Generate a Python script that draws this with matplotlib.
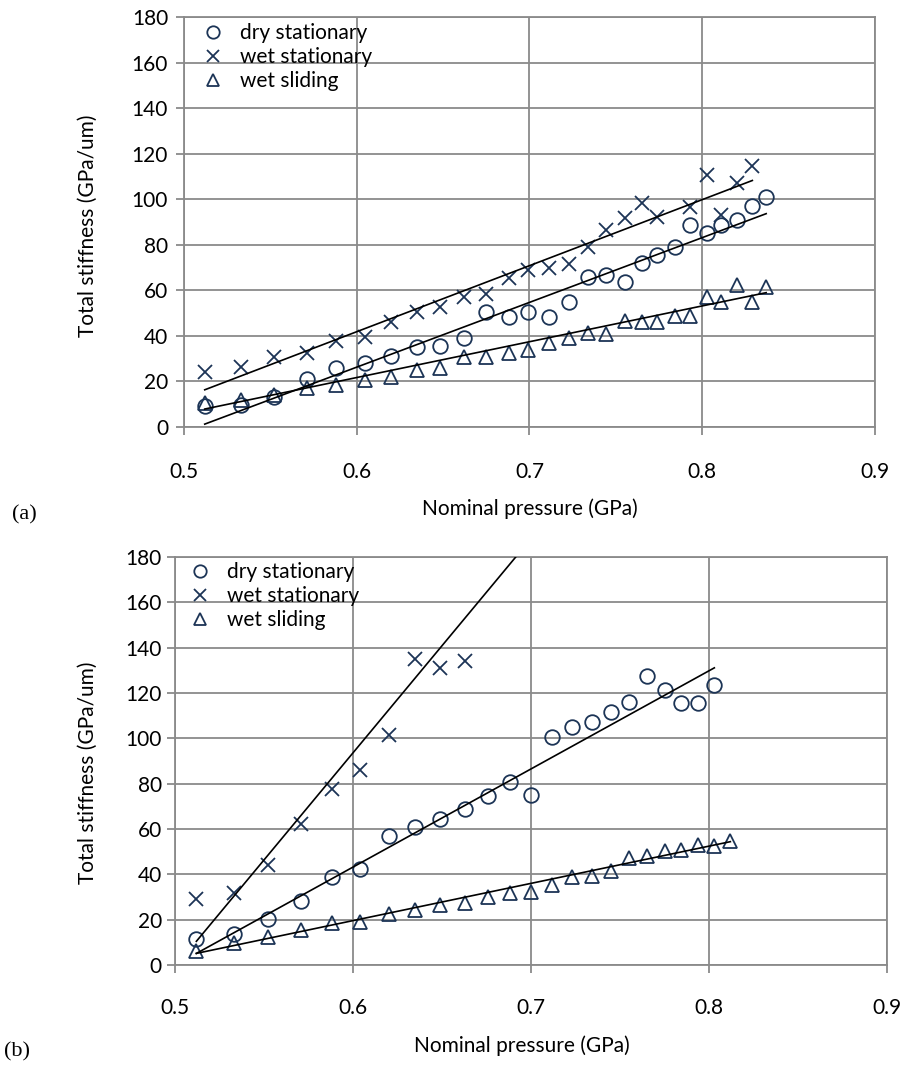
import numpy as np
import matplotlib
matplotlib.use("Agg")
import matplotlib.pyplot as plt

plt.rcParams['font.family'] = ['Lato', 'DejaVu Sans']

labels = ['dry stationary', 'wet stationary', 'wet sliding']

# (a) values
a_dry_x = [0.512, 0.533, 0.552, 0.571, 0.588, 0.605, 0.620, 0.635, 0.648, 0.662, 0.675, 0.688, 0.699, 0.711,
           0.723, 0.734, 0.744, 0.755, 0.765, 0.774, 0.784, 0.793, 0.803, 0.811, 0.820, 0.829, 0.837]
a_dry_y = [9.2, 9.7, 13.3, 20.9, 25.8, 28.0, 31.3, 35.0, 35.7, 39.2, 50.4, 48.4, 50.4, 48.4,
           54.7, 66.0, 66.7, 63.5, 71.9, 75.5, 79.2, 88.7, 85.0, 88.7, 90.9, 97.0, 101.1]
a_wst_x = [0.512, 0.533, 0.552, 0.571, 0.588, 0.605, 0.620, 0.635, 0.648, 0.662, 0.675, 0.688, 0.699,
           0.711, 0.723, 0.734, 0.744, 0.755, 0.765, 0.774, 0.793, 0.803, 0.811, 0.820, 0.829]
a_wst_y = [24.3, 26.2, 30.6, 32.4, 37.9, 39.4, 46.2, 50.4, 52.8, 57.2, 58.4, 65.3, 68.9,
           69.7, 71.6, 79.2, 86.5, 91.6, 98.2, 92.3, 96.4, 110.6, 93.1, 107.0, 114.6]
a_wsl_x = [0.512, 0.533, 0.552, 0.571, 0.588, 0.605, 0.620, 0.635, 0.648, 0.662, 0.675, 0.688, 0.699, 0.711,
           0.723, 0.734, 0.744, 0.755, 0.765, 0.774, 0.784, 0.793, 0.803, 0.811, 0.820, 0.829, 0.837]
a_wsl_y = [10.4, 11.9, 14.0, 17.0, 18.4, 20.6, 21.8, 25.0, 25.8, 30.6, 30.6, 32.4, 33.8, 36.7,
           38.9, 41.4, 40.8, 46.7, 46.2, 46.2, 48.9, 48.9, 57.2, 54.7, 62.3, 55.0, 61.6]
# trend lines (slope, intercept, x start, x end) as seen on the chart
a_trend_slope = [284.3, 289.9, 157.2]
a_trend_icept = [-144.3, -132.1, -72.6]
a_trend_span = [(0.512, 0.837), (0.512, 0.829), (0.512, 0.837)]

# (b)
b_dry_x = [0.512, 0.533, 0.552, 0.571, 0.588, 0.604, 0.620, 0.635, 0.649, 0.663, 0.676, 0.688, 0.700,
           0.712, 0.723, 0.734, 0.745, 0.755, 0.765, 0.775, 0.784, 0.794, 0.803]
b_dry_y = [11.3, 13.7, 20.2, 28.4, 38.7, 42.4, 57.1, 60.8, 64.5, 68.9, 74.5, 80.6, 75.0,
           100.8, 105.2, 107.4, 111.4, 116.2, 127.5, 121.4, 115.8, 115.8, 123.7]
b_wst_x = [0.512, 0.533, 0.552, 0.571, 0.588, 0.604, 0.620, 0.635, 0.649, 0.663]
b_wst_y = [29.0, 31.9, 44.1, 62.2, 77.5, 86.0, 101.4, 134.9, 130.9, 134.3]
b_wsl_x = [0.512, 0.533, 0.552, 0.571, 0.588, 0.604, 0.620, 0.635, 0.649, 0.663, 0.676, 0.688, 0.700,
           0.712, 0.723, 0.734, 0.745, 0.755, 0.765, 0.775, 0.784, 0.794, 0.803, 0.812]
b_wsl_y = [6.3, 9.6, 12.5, 15.4, 18.4, 19.1, 22.5, 24.3, 26.5, 27.2, 29.9, 31.6, 32.4,
           35.3, 39.0, 39.3, 41.5, 47.1, 48.1, 50.4, 50.8, 53.0, 52.7, 54.9]
b_trend_slope = [433.0, 945.0, 164.3]
b_trend_icept = [-216.6, -473.4, -79.0]
b_trend_span = [(0.512, 0.803), (0.512, 0.70), (0.512, 0.812)]

xticks = [0.5, 0.6, 0.7, 0.8, 0.9]
yticks = [0, 20, 40, 60, 80, 100, 120, 140, 160, 180]

navy = '#1c3456'
grid_c = '#8a8a8a'
markers = ['o', 'x', '^']


def draw_panel(ax, series, slopes, icepts, spans):
    for (x, y), m, lab in zip(series, markers, labels):
        if m == 'x':
            ax.plot(x, y, ls='none', marker=m, ms=10, mec=navy, mew=1.3, label=lab, zorder=3)
        else:
            ax.plot(x, y, ls='none', marker=m, ms=10.5, mfc='none', mec=navy, mew=1.3, label=lab, zorder=3)
    for s, c, (x0, x1) in zip(slopes, icepts, spans):
        xx = np.array([x0, x1])
        ax.plot(xx, s * xx + c, color='black', lw=1.2, zorder=4)

    ax.set_xlim(0.5, 0.9)
    ax.set_ylim(0, 180)
    ax.set_xticks(xticks)
    ax.set_xticklabels(['%.1f' % v for v in xticks])
    ax.set_yticks(yticks)
    ax.grid(True, color=grid_c, lw=1.3)
    ax.set_axisbelow(True)
    for sp in ax.spines.values():
        sp.set_color(grid_c)
        sp.set_linewidth(1.3)
    ax.tick_params(axis='both', direction='out', length=5.5, width=1.3, color=grid_c,
                   labelsize=15, labelcolor='black')
    ax.set_xlabel('Nominal pressure (GPa)', fontsize=15)
    ax.set_ylabel('Total stiffness (GPa/um)', fontsize=15)


fig = plt.figure(figsize=(9.07, 10.65), dpi=100)

ax2 = fig.add_axes([175 / 907, (1065 - 965) / 1065, 712 / 907, 408 / 1065])
draw_panel(ax2, [(b_dry_x, b_dry_y), (b_wst_x, b_wst_y), (b_wsl_x, b_wsl_y)],
           b_trend_slope, b_trend_icept, b_trend_span)
ax2.tick_params(axis='x', pad=18)
ax2.tick_params(axis='y', pad=4)
ax2.xaxis.set_label_coords(0.487, -0.172)
ax2.yaxis.set_label_coords(-0.108, 0.47)
ax2.legend(loc='upper left', bbox_to_anchor=(0.0205, 0.988), frameon=False, fontsize=15,
           handlelength=1.0, handletextpad=0.8, labelspacing=0.2, borderaxespad=0, borderpad=0,
           markerscale=0.85)

ax1 = fig.add_axes([184 / 907, (1065 - 427) / 1065, 691 / 907, 410 / 1065])
draw_panel(ax1, [(a_dry_x, a_dry_y), (a_wst_x, a_wst_y), (a_wsl_x, a_wsl_y)],
           a_trend_slope, a_trend_icept, a_trend_span)
ax1.tick_params(axis='x', pad=20)
ax1.tick_params(axis='y', pad=6)
ax1.xaxis.set_label_coords(0.5, -0.173)
ax1.yaxis.set_label_coords(-0.125, 0.49)
ax1.legend(loc='upper left', bbox_to_anchor=(0.027, 0.985), frameon=False, fontsize=15,
           handlelength=1.0, handletextpad=0.8, labelspacing=0.2, borderaxespad=0, borderpad=0,
           markerscale=0.85)

fig.text(12 / 907, 1 - 515 / 1065, '(a)', family='Liberation Serif', fontsize=16, va='center', ha='left')
fig.text(4 / 907, 1 - 1052 / 1065, '(b)', family='Liberation Serif', fontsize=16, va='center', ha='left')

fig.savefig('out.png', dpi=100)
